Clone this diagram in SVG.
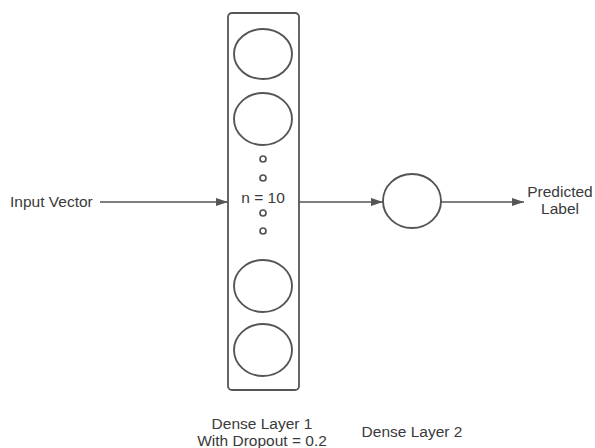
<svg xmlns="http://www.w3.org/2000/svg" width="595" height="448" viewBox="0 0 595 448">
<style>
.s{fill:none;stroke:#555;stroke-width:1.8}
.c{fill:#fff;stroke:#555;stroke-width:1.9}
.d{fill:#fff;stroke:#555;stroke-width:1.7}
.t{font-family:"Liberation Sans",Arial,sans-serif;font-size:15.5px;fill:#3a3a3a}
.e{stroke:#555;stroke-width:1.5;fill:none}
</style>
<defs>
<marker id="ah" markerWidth="12" markerHeight="10" refX="12" refY="5" orient="auto" markerUnits="userSpaceOnUse">
<path d="M0,1 L12,5 L0,9 Z" fill="#555"/>
</marker>
</defs>
<rect width="595" height="448" fill="#fff"/>
<g id="connectors">
<line class="e" x1="100" y1="202" x2="228" y2="202" marker-end="url(#ah)"/>
<line class="e" x1="299" y1="202" x2="383" y2="202" marker-end="url(#ah)"/>
<line class="e" x1="441" y1="202" x2="524" y2="202" marker-end="url(#ah)"/>
</g>
<g id="input">
<text class="t" x="10" y="207">Input Vector</text>
</g>
<g id="layer1">
<rect class="s" x="228" y="13" width="71" height="377" rx="4"/>
<ellipse class="c" cx="263" cy="54" rx="29" ry="25"/>
<ellipse class="c" cx="263" cy="119" rx="29" ry="26"/>
<ellipse class="c" cx="263" cy="286" rx="29" ry="26"/>
<ellipse class="c" cx="263" cy="350" rx="29" ry="26"/>
<circle class="d" cx="263" cy="159" r="3"/>
<circle class="d" cx="263" cy="178" r="3"/>
<circle class="d" cx="263" cy="213" r="3"/>
<circle class="d" cx="263" cy="231" r="3"/>
<text class="t" x="263" y="203" text-anchor="middle">n = 10</text>
</g>
<g id="layer2">
<ellipse class="c" cx="412" cy="201" rx="29" ry="27"/>
</g>
<g id="output">
<text class="t" x="560" y="197" text-anchor="middle">Predicted</text>
<text class="t" x="560" y="214" text-anchor="middle">Label</text>
</g>
<g id="labels">
<text class="t" x="262" y="429" text-anchor="middle">Dense Layer 1</text>
<text class="t" x="262" y="446" text-anchor="middle">With Dropout = 0.2</text>
<text class="t" x="412" y="437" text-anchor="middle">Dense Layer 2</text>
</g>
</svg>
